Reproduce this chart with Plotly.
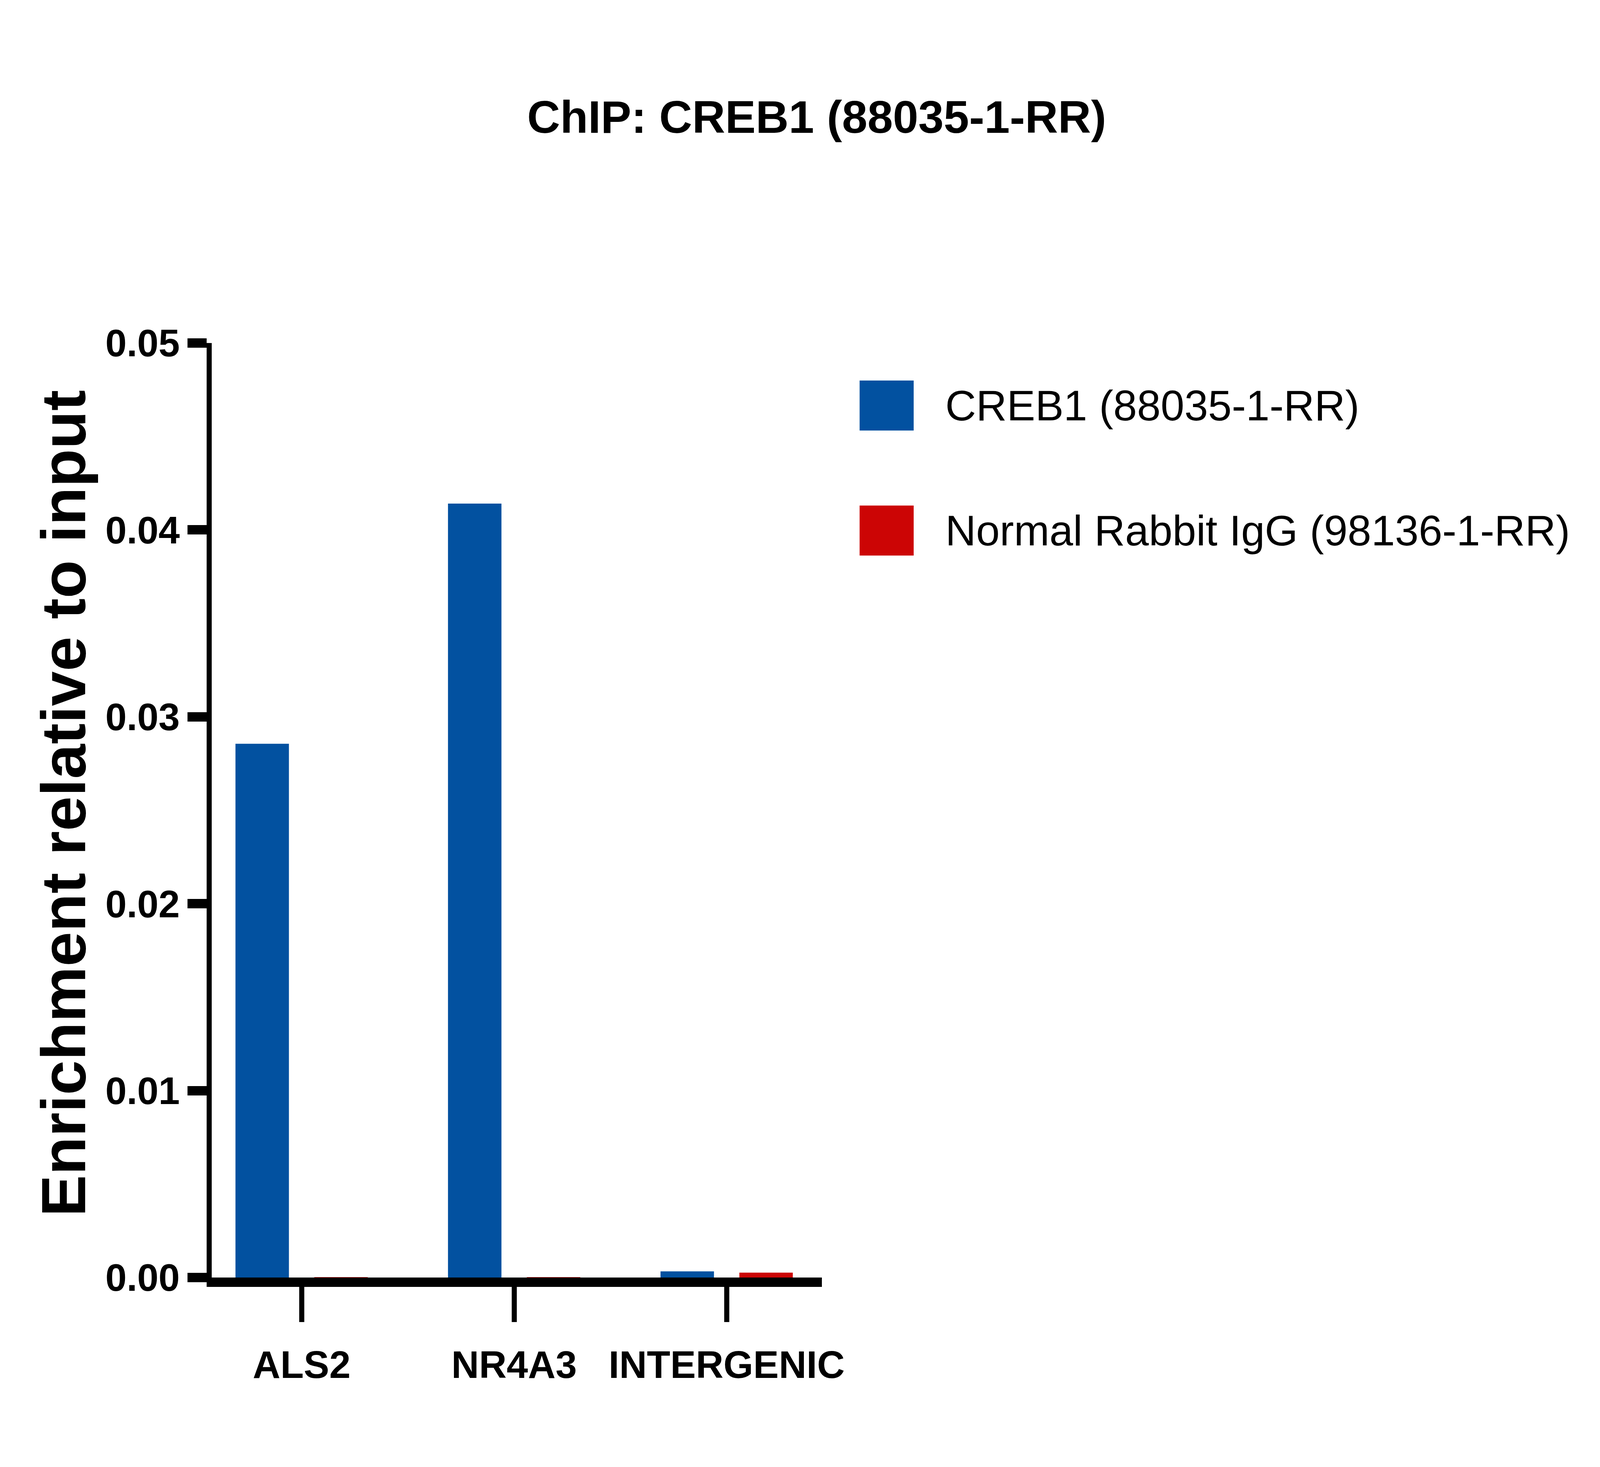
import plotly.graph_objects as go

# data
targets = ["ALS2", "NR4A3", "INTERGENIC"]
creb1 = [0.02856, 0.04141, 0.00033]
igg = [0.00002, 0.00002, 0.00026]
series_names = ["CREB1 (88035-1-RR)", "Normal Rabbit IgG (98136-1-RR)"]
y_ticks = [0.00, 0.01, 0.02, 0.03, 0.04, 0.05]

BLUE = "#0251A0"
RED = "#CC0505"
FONT = "Arial, Liberation Sans, sans-serif"

# the browser window is only 4096 px wide, so horizontal
# positions from the 7548 px reference are squeezed to fit
REF_W = 7548
W, H = 4096, 3755
SX = W / REF_W
FS = SX  # font scale, keeps text widths in proportion

# plot area (reference pixels)
L, R, T, B = 984, 3862, 870, 3262


def px_x(p):
    return (p - L) / (R - L)


def px_y(p):
    return (B - p) / (B - T)


fig = go.Figure()
fig.add_trace(go.Bar(name=series_names[0], x=targets, y=creb1, marker_color=BLUE,
                     marker_line_width=0, showlegend=False))
fig.add_trace(go.Bar(name=series_names[1], x=targets, y=igg, marker_color=RED,
                     marker_line_width=0, showlegend=False))

fig.update_layout(
    width=W, height=H, autosize=False,
    margin=dict(l=round(L * SX), r=W - round(R * SX), t=T, b=H - B, pad=0),
    paper_bgcolor="white", plot_bgcolor="white",
    barmode="group", bargap=0.258, bargroupgap=0.322,
    font=dict(family=FONT, color="black"),
    title=dict(text="ChIP: CREB1 (88035-1-RR)", x=3838 / REF_W, xref="container", xanchor="center",
               y=1 - 291 / H, yref="container", yanchor="middle",
               font=dict(size=round(216 * FS), weight="bold", family=FONT, color="black")),
)

tick_font = dict(size=round(180 * FS), weight="bold", family=FONT, color="black")
fig.update_xaxes(
    range=[-0.423, 2.448], showgrid=False, zeroline=False,
    showline=True, linecolor="black", linewidth=24,
    ticks="outside", ticklen=90, tickwidth=round(24 * SX), tickcolor="black",
    tickfont=tick_font, ticklabelstandoff=25,
)
fig.update_yaxes(
    range=[0, 0.05], tickvals=y_ticks, tickformat=".2f",
    showgrid=False, zeroline=False,
    showline=True, linecolor="black", linewidth=round(24 * SX),
    ticks="outside", ticklen=round(90 * SX), tickwidth=24, tickcolor="black",
    tickfont=tick_font,
)

# y axis title
fig.add_annotation(text="Enrichment relative to input", textangle=-90,
                   xref="paper", yref="paper", x=px_x(286), y=px_y(2048),
                   xanchor="center", yanchor="middle", showarrow=False,
                   font=dict(size=160, weight="bold", family=FONT, color="black"))

# legend: swatches and labels
legend_rows = [(1030, BLUE), (1350, RED)]
for (cy, col), name in zip(legend_rows, series_names):
    fig.add_shape(type="rect", xref="paper", yref="paper",
                  x0=px_x(4040), x1=px_x(4295), y0=px_y(cy + 64), y1=px_y(cy - 64),
                  fillcolor=col, line_width=0)
    fig.add_annotation(text=name, xref="paper", yref="paper",
                       x=px_x(4440), y=px_y(cy), xanchor="left", yanchor="middle",
                       showarrow=False,
                       font=dict(size=round(200 * FS), family=FONT, color="black"))

fig.write_html("out.html")
